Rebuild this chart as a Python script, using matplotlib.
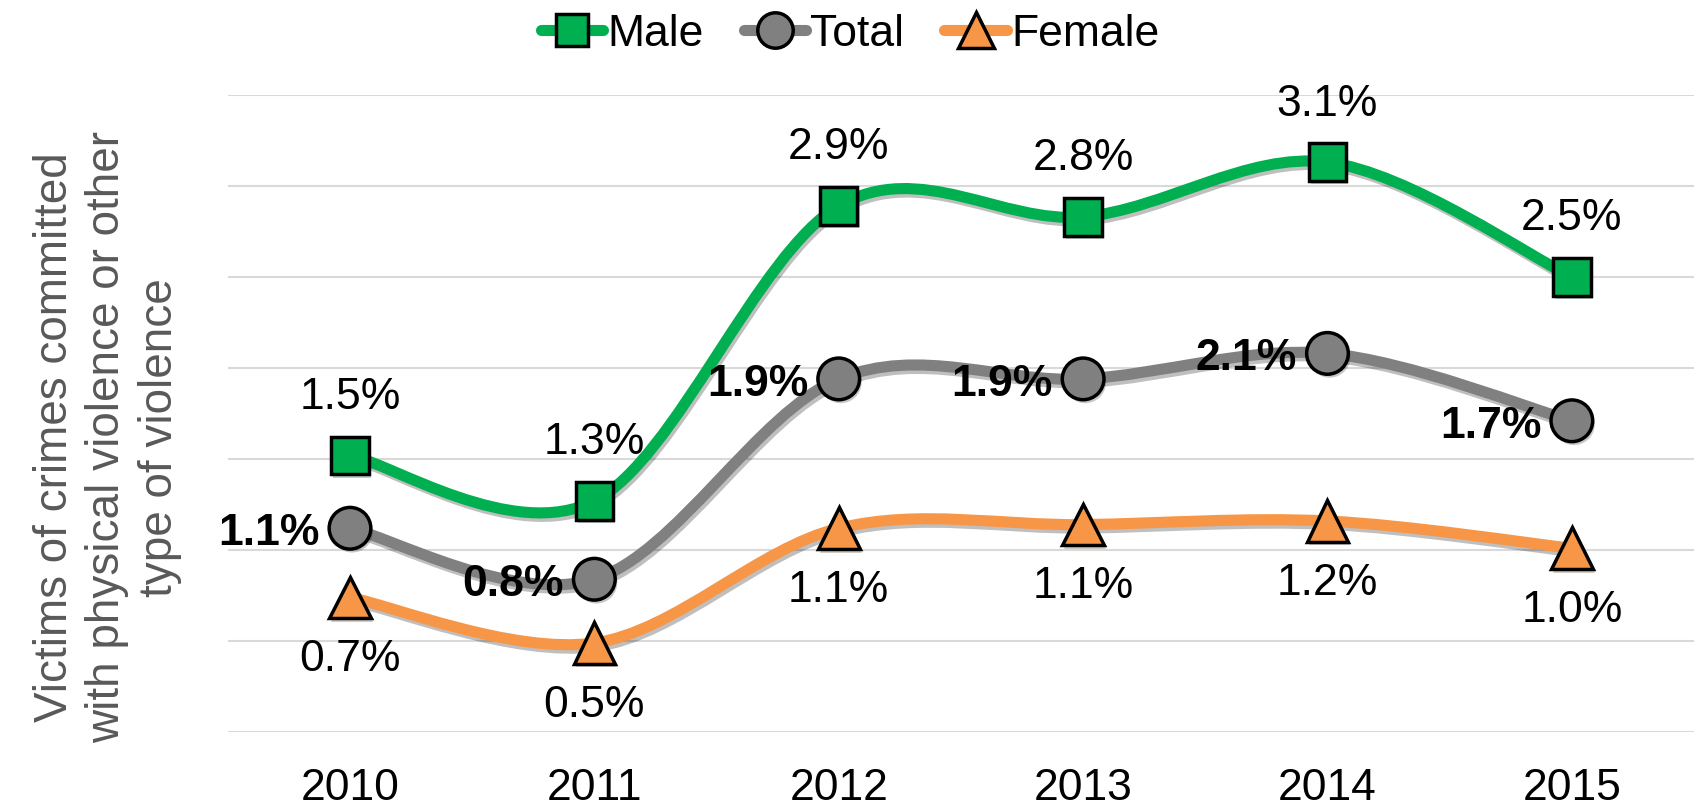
import matplotlib
matplotlib.use('Agg')
from matplotlib import pyplot as plt
from matplotlib.path import Path
from matplotlib.patches import PathPatch
from matplotlib.lines import Line2D
import matplotlib.patheffects as pe
import numpy as np

plt.rcParams['font.family'] = ['Liberation Sans', 'DejaVu Sans']

years = ['2010', '2011', '2012', '2013', '2014', '2015']
male = [1.52, 1.27, 2.89, 2.83, 3.13, 2.50]
total = [1.12, 0.84, 1.94, 1.94, 2.08, 1.71]
female = [0.74, 0.49, 1.12, 1.14, 1.16, 1.01]

green = '#00b050'
grey = '#808080'
orange = '#f79646'


def smooth_path(xs, ys):
    # excel-like smoothed line: catmull-rom turned into cubic beziers
    pts = np.column_stack([xs, ys]).astype(float)
    ext = np.vstack([pts[0], pts, pts[-1]])
    verts = [pts[0]]
    codes = [Path.MOVETO]
    for i in range(len(pts) - 1):
        p0, p1, p2, p3 = ext[i], ext[i + 1], ext[i + 2], ext[i + 3]
        c1 = p1 + (p2 - p0) / 6
        c2 = p2 - (p3 - p1) / 6
        verts += [c1, c2, p2]
        codes += [Path.CURVE4] * 3
    return Path(verts, codes)


fig = plt.figure(figsize=(17, 8.1), dpi=100)
ax = fig.add_axes([0.134, 0.096, 0.8625, 0.787])
x = np.arange(len(years))

shadow = [pe.SimpleLineShadow(offset=(1.5, -2.5), shadow_color='black', alpha=0.25), pe.Normal()]

series = [
    (female, orange, '^', 30, 'Female'),
    (total, grey, 'o', 30, 'Total'),
    (male, green, 's', 27, 'Male'),
]
for vals, col, mk, ms, name in series:
    patch = PathPatch(smooth_path(x, vals), facecolor='none', edgecolor=col,
                      lw=8, capstyle='round', joinstyle='round', zorder=2)
    patch.set_path_effects(shadow)
    ax.add_patch(patch)
    ax.plot(x, vals, ls='none', marker=mk, ms=ms, mfc=col, mec='black', mew=2.5, zorder=3,
            path_effects=[pe.SimplePatchShadow(offset=(1.5, -2.5), alpha=0.25), pe.Normal()])

for i, v in enumerate(male):
    ax.annotate(f'{v:.1f}%', (x[i], v), xytext=(0, 27), textcoords='offset points',
                ha='center', va='bottom', fontsize=32)
for i, v in enumerate(female):
    ax.annotate(f'{v:.1f}%', (x[i], v), xytext=(0, -30), textcoords='offset points',
                ha='center', va='top', fontsize=32)
for i, v in enumerate(total):
    ax.annotate(f'{v:.1f}%', (x[i], v), xytext=(-22, -4), textcoords='offset points',
                ha='right', va='center', fontsize=32, fontweight='bold')

ax.set_xlim(-0.5, len(years) - 0.5)
ax.set_ylim(0, 3.5)
ax.set_yticks(np.arange(0, 3.51, 0.5))
ax.yaxis.grid(True, color='#d9d9d9', lw=1.5)
ax.set_axisbelow(True)
ax.tick_params(axis='y', left=False, labelleft=False)
ax.tick_params(axis='x', length=0, labelsize=32, pad=26)
ax.set_xticks(x)
ax.set_xticklabels(years)
for s in ax.spines.values():
    s.set_visible(False)

fig.text(0.063, 0.46, 'Victims of crimes committed\nwith physical violence or other\ntype of violence',
         rotation=90, ha='center', va='center', fontsize=33, color='#595959', linespacing=1.25)

handles = [Line2D([], [], color=c, lw=8, marker=m, ms=s * 0.85, mfc=c, mec='black', mew=2.5,
                  solid_capstyle='round')
           for c, m, s in [(green, 's', 27), (grey, 'o', 30), (orange, '^', 30)]]
fig.legend(handles, ['Male', 'Total', 'Female'], loc='center', bbox_to_anchor=(0.5, 0.958),
           ncol=3, frameon=False, fontsize=32, handlelength=1.4, handletextpad=0.1,
           columnspacing=0.9, borderpad=0)

fig.savefig('out.png', dpi=100)
